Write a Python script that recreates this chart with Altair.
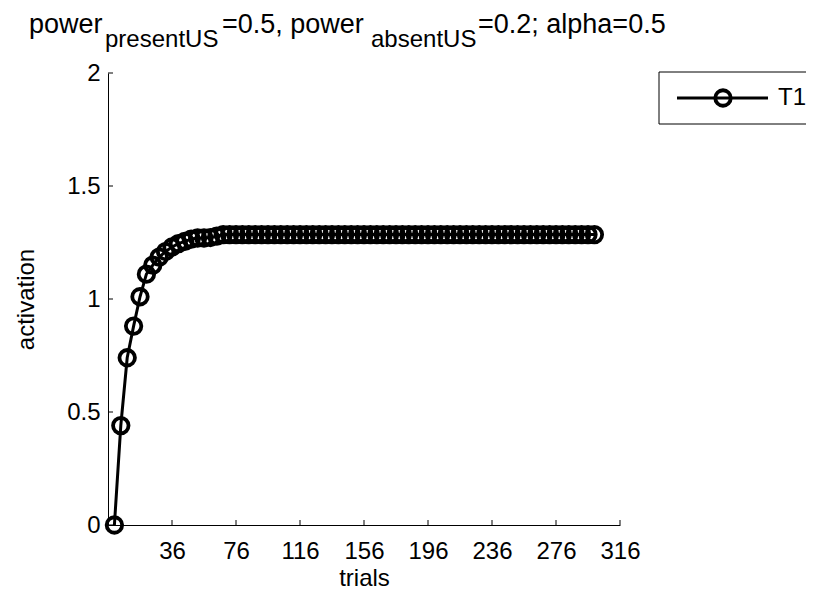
import altair as alt
import pandas as pd

# ---- data ----
trials = [0, 4, 8, 12, 16, 20, 24, 28, 32, 36, 40, 44, 48, 52, 56, 60, 64, 68, 72, 76,
          80, 84, 88, 92, 96, 100, 104, 108, 112, 116, 120, 124, 128, 132, 136, 140, 144, 148, 152, 156,
          160, 164, 168, 172, 176, 180, 184, 188, 192, 196, 200, 204, 208, 212, 216, 220, 224, 228, 232, 236,
          240, 244, 248, 252, 256, 260, 264, 268, 272, 276, 280, 284, 288, 292, 296, 300]
activation = [0.0, 0.44, 0.74, 0.88, 1.01, 1.11, 1.15, 1.185, 1.21, 1.23, 1.245, 1.255, 1.265, 1.27, 1.27, 1.272, 1.278, 1.285, 1.285, 1.285,
              1.285, 1.285, 1.285, 1.285, 1.285, 1.285, 1.285, 1.285, 1.285, 1.285, 1.285, 1.285, 1.285, 1.285, 1.285, 1.285, 1.285, 1.285, 1.285, 1.285,
              1.285, 1.285, 1.285, 1.285, 1.285, 1.285, 1.285, 1.285, 1.285, 1.285, 1.285, 1.285, 1.285, 1.285, 1.285, 1.285, 1.285, 1.285, 1.285, 1.285,
              1.285, 1.285, 1.285, 1.285, 1.285, 1.285, 1.285, 1.285, 1.285, 1.285, 1.285, 1.285, 1.285, 1.285, 1.285, 1.285]
series_names = ["T1"]
x_tick_values = [36, 76, 116, 156, 196, 236, 276, 316]
y_tick_values = [0, 0.5, 1, 1.5, 2]
x_domain = [-4, 316]
y_domain = [0, 2]

title_parts = ["power", "presentUS", "=0.5, power", "absentUS", "=0.2; alpha=0.5"]
title_is_sub = [False, True, False, True, False]
title_x = [-79, -3, 114, 263, 370]

FONT = "Liberation Sans"
W, H = 512, 452

df = pd.DataFrame({"trials": trials, "activation": activation, "series": series_names[0]})
xs = alt.Scale(domain=x_domain, nice=False, zero=False)
ys = alt.Scale(domain=y_domain, nice=False, zero=False)

x_axis = alt.Axis(values=x_tick_values, title="trials", grid=False, ticks=False, tickSize=0,
                  domainColor="black", domainWidth=1, labelFont=FONT, labelFontSize=24,
                  labelColor="black", labelPadding=14, titleFont=FONT, titleFontSize=24,
                  titleFontWeight="normal", titleColor="black", titleX=W / 2, titleY=60,
                  titleBaseline="alphabetic", labelFlush=False, labelOverlap=False)
y_axis = alt.Axis(values=y_tick_values, title="activation", grid=False, ticks=False, tickSize=0,
                  domainColor="black", domainWidth=1, labelFont=FONT, labelFontSize=24,
                  labelColor="black", labelPadding=8, format="~g", titleFont=FONT, titleFontSize=24,
                  titleFontWeight="normal", titleColor="black", titleX=-75, titleY=H / 2,
                  titleAngle=270, titleAlign="center", titleBaseline="alphabetic",
                  labelFlush=False, labelOverlap=False)

base = alt.Chart(df)
line = base.mark_line(color="black", strokeWidth=3).encode(
    x=alt.X("trials:Q", scale=xs, axis=x_axis),
    y=alt.Y("activation:Q", scale=ys, axis=y_axis),
)
points = base.mark_point(shape="circle", filled=False, color="black", strokeWidth=3.8,
                         size=240, opacity=1).encode(
    x=alt.X("trials:Q", scale=xs, axis=x_axis),
    y=alt.Y("activation:Q", scale=ys, axis=y_axis),
)

# inward ticks (MATLAB style)
ytk = alt.Chart(pd.DataFrame({"activation": y_tick_values})).mark_rule(color="black", strokeWidth=1).encode(
    y=alt.Y("activation:Q", scale=ys, axis=y_axis), x=alt.value(0), x2=alt.value(5))
xtk = alt.Chart(pd.DataFrame({"trials": x_tick_values})).mark_rule(color="black", strokeWidth=1).encode(
    x=alt.X("trials:Q", scale=xs, axis=x_axis), y=alt.value(H), y2=alt.value(H - 5))

# title with subscripts
title_layers = []
for txt, sub, tx in zip(title_parts, title_is_sub, title_x):
    title_layers.append(
        alt.Chart(pd.DataFrame({"t": [txt]})).mark_text(
            font=FONT, fontSize=24 if sub else 27, align="left", baseline="alphabetic", color="black"
        ).encode(text="t:N", x=alt.value(tx), y=alt.value(-26 if sub else -40))
    )

# legend box
leg_df = pd.DataFrame({"series": series_names})
leg_box = alt.Chart(leg_df).mark_rect(fill="white", stroke="black", strokeWidth=1).encode(
    x=alt.value(551), x2=alt.value(720), y=alt.value(-1), y2=alt.value(51))
leg_line = alt.Chart(leg_df).mark_rule(color="black", strokeWidth=3).encode(
    x=alt.value(569), x2=alt.value(660), y=alt.value(25))
leg_pt = alt.Chart(leg_df).mark_point(shape="circle", filled=False, color="black", strokeWidth=3.8,
                                      size=240, opacity=1).encode(x=alt.value(615), y=alt.value(25))
leg_txt = alt.Chart(leg_df).mark_text(font=FONT, fontSize=24, align="left", baseline="middle",
                                      color="black").encode(text="series:N", x=alt.value(670), y=alt.value(25))

chart = alt.layer(line, points, ytk, xtk, *title_layers, leg_box, leg_line, leg_pt, leg_txt).properties(
    width=W, height=H, autosize="none",
    padding={"left": 100, "top": 65, "right": 186, "bottom": 68},
    background="white",
).configure_view(stroke=None)

chart.save("out.html", embed_options={"renderer": "svg", "actions": False})
